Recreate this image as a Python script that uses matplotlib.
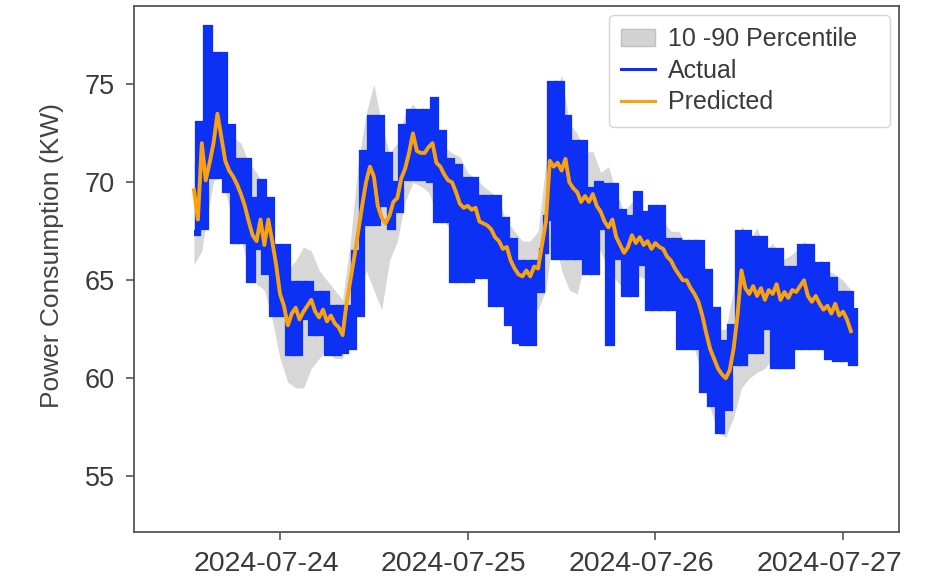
import matplotlib
matplotlib.use("Agg")
import matplotlib.pyplot as plt
import matplotlib.dates as mdates
import matplotlib.transforms as mtransforms
import numpy as np
import pandas as pd
from matplotlib.lines import Line2D
from matplotlib.patches import Patch

plt.rcParams["font.family"] = ["Liberation Sans", "DejaVu Sans"]

# Hourly timestamps of the forecast window
start = "2024-07-23 13:00"
hours = pd.date_range(start, periods=85, freq="h")

# Actual load: lowest and highest reading within each hour (kW)
actual_low = [
    67.4, 67.7, 70.3, 70.3, 69.6, 67.0, 67.0, 65.0, 66.7, 65.4,
    63.3, 63.3, 61.3, 61.3, 63.1, 62.3, 62.3, 61.3, 61.3, 61.4,
    61.6, 63.3, 67.9, 67.9, 68.9, 67.7, 68.6, 70.2, 70.2, 70.2,
    70.1, 68.1, 68.1, 65.0, 65.0, 65.0, 65.2, 65.2, 63.8, 63.8,
    62.8, 61.9, 61.8, 61.8, 64.5, 68.2, 66.2, 66.2, 66.2, 66.2,
    65.4, 65.4, 67.7, 61.8, 66.2, 64.3, 64.3, 65.9, 63.6, 63.6,
    63.6, 63.6, 61.6, 61.6, 61.6, 59.4, 58.7, 57.3, 58.5, 60.8,
    60.8, 61.4, 61.4, 62.6, 60.6, 60.6, 60.6, 61.6, 61.6, 61.6,
    61.6, 61.1, 61.0, 61.0, 60.8,
]
actual_high = [
    73.0, 77.9, 76.5, 76.5, 72.8, 71.1, 71.1, 69.1, 70.0, 69.1,
    66.7, 66.7, 64.8, 64.8, 64.8, 64.3, 64.3, 63.6, 63.6, 63.6,
    66.4, 71.5, 73.3, 73.3, 71.4, 69.9, 72.8, 73.6, 73.6, 73.6,
    74.2, 72.5, 71.1, 70.8, 70.1, 70.1, 69.2, 69.2, 69.2, 68.1,
    67.0, 65.9, 65.9, 65.9, 66.5, 75.0, 75.0, 73.3, 72.0, 72.0,
    69.6, 69.9, 69.8, 69.8, 68.5, 68.2, 69.4, 68.4, 68.7, 68.7,
    67.0, 67.0, 66.9, 66.9, 66.9, 65.4, 63.5, 61.8, 62.6, 67.4,
    67.4, 67.1, 67.1, 66.5, 66.5, 65.6, 65.6, 66.7, 66.7, 65.8,
    65.8, 65.0, 64.3, 64.3, 63.6,
]

# Model forecast every 30 minutes (kW)
predicted = [
    69.6, 68.1, 72.0, 70.1, 71.0, 72.0, 73.5, 72.3, 71.1, 70.6,
    70.3, 69.9, 69.4, 68.8, 68.0, 67.3, 67.0, 68.1, 66.8, 68.1,
    67.0, 65.8, 64.3, 63.7, 62.7, 63.3, 63.6, 63.0, 63.4, 63.7,
    64.0, 63.4, 63.1, 63.5, 62.9, 63.2, 62.8, 62.6, 62.2, 63.8,
    65.0, 66.2, 67.5, 68.8, 70.0, 70.8, 70.3, 68.8, 68.2, 67.9,
    68.3, 69.0, 69.2, 70.2, 70.7, 71.5, 72.5, 71.6, 71.5, 71.5,
    71.8, 72.0, 71.0, 70.8, 70.4, 70.1, 70.0, 69.5, 68.9, 68.7,
    68.8, 68.6, 68.7, 68.0, 67.9, 67.8, 67.6, 67.2, 67.0, 66.6,
    66.7, 66.0, 65.6, 65.3, 65.2, 65.5, 65.2, 65.7, 65.6, 66.8,
    68.0, 71.1, 70.8, 71.0, 70.6, 71.2, 70.0, 69.7, 69.5, 69.0,
    69.3, 69.0, 69.4, 68.8, 68.5, 68.0, 67.7, 68.1, 67.2, 66.8,
    66.4, 66.7, 67.3, 66.9, 67.2, 66.8, 67.0, 66.6, 66.9, 66.7,
    66.6, 66.2, 66.0, 65.6, 65.3, 65.0, 65.0, 64.6, 64.3, 63.9,
    63.2, 62.3, 61.5, 61.0, 60.5, 60.2, 60.0, 60.4, 61.5, 63.2,
    65.5, 64.6, 64.3, 64.7, 64.2, 64.6, 64.0, 64.5, 64.3, 64.8,
    64.0, 64.4, 64.1, 64.5, 64.4, 64.7, 65.0, 64.2, 63.9, 64.2,
    63.8, 63.5, 63.7, 63.3, 63.8, 63.2, 63.4, 63.0, 62.4,
]

# 10th and 90th percentile of the forecast distribution (kW)
p10 = [
    65.8, 66.5, 69.0, 71.0, 69.5, 68.0, 67.2, 65.5, 64.8, 64.5,
    63.0, 61.0, 59.8, 59.5, 59.5, 60.5, 61.0, 61.5, 61.0, 61.0,
    62.5, 64.0, 65.5, 64.5, 63.5, 66.0, 67.0, 69.0, 70.0, 69.8,
    69.5, 68.5, 68.0, 67.5, 66.5, 66.5, 66.3, 66.0, 65.5, 65.0,
    64.0, 63.5, 63.5, 63.3, 63.5, 64.5, 67.5, 65.5, 64.5, 64.3,
    66.0, 66.5, 66.5, 65.5, 65.0, 64.5, 65.0, 65.2, 65.0, 65.0,
    64.5, 64.0, 63.0, 62.5, 61.5, 60.0, 58.5, 57.2, 57.0, 58.0,
    59.5, 60.0, 60.3, 60.5, 61.0, 61.5, 62.0, 62.0, 62.5, 62.0,
    62.0, 61.8, 62.0, 61.5, 61.0,
]
p90 = [
    71.0, 73.0, 74.0, 75.0, 73.0, 72.3, 72.0, 71.0, 70.5, 69.8,
    67.5, 66.0, 65.5, 66.0, 66.7, 66.5, 65.5, 65.0, 64.5, 64.0,
    67.0, 71.0, 73.5, 75.0, 73.0, 71.5, 72.0, 73.5, 74.0, 73.2,
    73.5, 72.5, 71.8, 71.5, 71.3, 70.5, 70.2, 69.8, 69.5, 69.0,
    68.0, 67.5, 67.0, 67.0, 67.5, 71.0, 74.0, 75.5, 73.0, 72.5,
    71.5, 71.6, 70.5, 70.8, 69.5, 68.5, 69.0, 68.5, 68.5, 68.3,
    68.0, 67.5, 67.5, 66.8, 66.0, 65.5, 63.5, 62.5, 62.5, 64.5,
    67.8, 67.0, 67.7, 66.5, 66.9, 66.0, 66.2, 66.5, 67.0, 66.0,
    65.8, 65.5, 65.3, 65.0, 64.5,
]

tick_dates = ["2024-07-24", "2024-07-25", "2024-07-26", "2024-07-27"]
y_ticks = [55, 60, 65, 70, 75]

# Actual trace alternates between the hourly low and high readings
half_hours = pd.date_range(start, periods=2 * len(hours), freq="30min")
actual_trace = np.column_stack([actual_low, actual_high]).ravel()
pred_times = half_hours[: len(predicted)]

blue = "#0c30f4"
orange = "#f9a20c"
band_gray = "#cdcdcd"
axis_gray = "#555555"
text_gray = "#3a3a3a"

fig = plt.figure(figsize=(9.25, 5.79), dpi=100)
ax = fig.add_axes([0.1449, 0.0812, 0.9719 - 0.1449, 0.9896 - 0.0812])

ax.fill_between(hours, p10, p90, color=band_gray, alpha=0.8, lw=0, zorder=1)
ax.plot(half_hours, actual_trace, color=blue, lw=4.5, drawstyle="steps-post",
        solid_joinstyle="miter", solid_capstyle="butt", zorder=2)
ax.plot(pred_times, predicted, color=orange, lw=2.8, zorder=3)

ax.set_xlim(pd.Timestamp("2024-07-23 05:20"), pd.Timestamp("2024-07-27 07:09"))
ax.set_ylim(52.15, 79.0)

ax.set_xticks(pd.to_datetime(tick_dates))
ax.xaxis.set_major_formatter(mdates.DateFormatter("%Y-%m-%d"))
ax.set_yticks(y_ticks)

ax.tick_params(axis="both", labelsize=19.5, colors=axis_gray, labelcolor=text_gray,
               length=6, width=1.2, pad=8)
ax.tick_params(axis="x", labelsize=20.5)
shift = mtransforms.ScaledTranslation(-14 / 100, 0, fig.dpi_scale_trans)
for lbl in ax.get_xticklabels():
    lbl.set_transform(lbl.get_transform() + shift)

for side in ["left", "right", "top", "bottom"]:
    ax.spines[side].set_color(axis_gray)
    ax.spines[side].set_linewidth(1.3)

ax.set_ylabel("Power Consumption (KW)", fontsize=19, color="#444444")
ax.yaxis.set_label_coords(-0.092, 0.525)

handles = [
    Patch(facecolor="#d3d3d3", edgecolor="#c0c0c0", label="10 -90 Percentile   "),
    Line2D([0], [0], color=blue, lw=2.2, label="Actual"),
    Line2D([0], [0], color=orange, lw=2.2, label="Predicted"),
]
leg = ax.legend(handles=handles, loc="upper right", fontsize=18,
                frameon=True, framealpha=1.0, edgecolor="#d5d5d5",
                borderaxespad=0.35, handlelength=1.35, handletextpad=0.5,
                labelspacing=0.3, borderpad=0.5)
for t in leg.get_texts():
    t.set_color(text_gray)

fig.savefig("out.png", dpi=100, facecolor="white")
